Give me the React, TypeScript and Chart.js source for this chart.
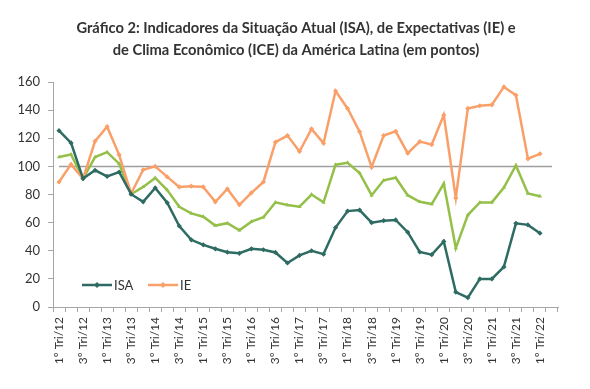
import React, { useEffect, useRef } from "react";
import { Chart, registerables } from "chart.js";

Chart.register(...registerables);

const YEARS = ["12", "13", "14", "15", "16", "17", "18", "19", "20", "21", "22"];
const QUARTERS = ["1º", "2º", "3º", "4º"];
const CATEGORIES: string[] = [];
YEARS.forEach((y) => QUARTERS.forEach((q) => CATEGORIES.push(`${q} Tri/${y}`)));
const LABELS = CATEGORIES.slice(0, 42); // 1º Tri/12 .. 2º Tri/22 (last one empty)

const ISA = [125.4, 116.7, 91.3, 97.2, 92.9, 96, 80.2, 74.8, 84.7, 74.1, 57.6, 47.8, 44.2, 41.4, 39, 38.2, 41.4, 40.7, 38.8, 31.3, 36.7, 40, 37.6, 56.5, 68.2, 68.9, 60, 61.4, 61.9, 53.2, 39.1, 37.2, 46.6, 10.6, 6.6, 20, 20, 28.5, 59.5, 58.4, 52.5];
const IE = [88.9, 101.4, 91.3, 117.9, 128.2, 108.2, 80.7, 97.6, 100, 92.5, 85.4, 85.9, 85.4, 74.8, 84, 72.7, 81.2, 88.9, 117.2, 121.9, 110.6, 126.6, 116.5, 153.6, 141.2, 124.7, 99.5, 121.9, 124.9, 109.4, 117.6, 115.5, 136.5, 77.6, 141.2, 143.1, 143.8, 156.5, 150.6, 105.4, 108.9];
const ICE = [106.6, 108.5, 91.3, 106.6, 110.1, 101.9, 80.2, 85.4, 91.8, 83.1, 71.3, 66.6, 64.2, 57.9, 59.6, 54.6, 60.7, 63.8, 74.4, 72.5, 71.3, 80, 74.4, 101.2, 102.6, 95.3, 79.5, 90.1, 91.9, 79.5, 74.8, 73.2, 87.8, 41.9, 65.4, 74.4, 74.4, 84.9, 100.7, 80.7, 78.8];
const REFERENCE = 100;
const Y_TICKS = [0, 20, 40, 60, 80, 100, 120, 140, 160];
const TITLE = [
  "Gráfico 2: Indicadores da Situação Atual (ISA), de Expectativas (IE) e",
  "de Clima Econômico (ICE) da América Latina (em pontos)",
];
const LEGEND_ITEMS = ["ISA", "IE"];

const C_ISA = "#2E6B62";
const C_IE = "#F9A06A";
const C_ICE = "#94C049";
const AXIS = "#A6A6A6";
const TEXT = "#333333";
const FONT = "Lato, 'Open Sans', sans-serif";

const refLine = {
  id: "refLine",
  beforeDatasetsDraw(chart: any) {
    const { ctx, scales } = chart;
    const y = scales.y.getPixelForValue(REFERENCE);
    const x0 = scales.x.getPixelForValue(0);
    const x1 = scales.x.getPixelForValue(LABELS.length - 1);
    ctx.save();
    ctx.strokeStyle = "#9E9E9E";
    ctx.lineWidth = 1.5;
    ctx.beginPath();
    ctx.moveTo(x0, y);
    ctx.lineTo(x1, y);
    ctx.stroke();
    ctx.restore();
  },
};

const centeredTitle = {
  id: "centeredTitle",
  afterDraw(chart: any) {
    const { ctx, width } = chart;
    ctx.save();
    ctx.fillStyle = TEXT;
    ctx.font = `bold 14.7px ${FONT}`;
    ctx.textAlign = "center";
    ctx.textBaseline = "middle";
    TITLE.forEach((line, i) => ctx.fillText(line, width / 2 + 1, 28 + i * 22));
    ctx.restore();
  },
};

const customLegend = {
  id: "customLegend",
  afterDraw(chart: any) {
    const { ctx } = chart;
    const positions = [82, 148];
    const y = 285;
    ctx.save();
    LEGEND_ITEMS.forEach((name, i) => {
      const ds = chart.data.datasets.find((d: any) => d.label === name);
      const x = positions[i];
      ctx.strokeStyle = ds.borderColor;
      ctx.lineWidth = 2.5;
      ctx.beginPath();
      ctx.moveTo(x, y);
      ctx.lineTo(x + 30, y);
      ctx.stroke();
      ctx.fillStyle = ds.borderColor;
      ctx.beginPath();
      ctx.moveTo(x + 15, y - 3);
      ctx.lineTo(x + 18, y);
      ctx.lineTo(x + 15, y + 3);
      ctx.lineTo(x + 12, y);
      ctx.closePath();
      ctx.fill();
      ctx.fillStyle = TEXT;
      ctx.font = `13px ${FONT}`;
      ctx.textBaseline = "middle";
      ctx.textAlign = "left";
      ctx.fillText(name, x + 32, y + 1);
    });
    ctx.restore();
  },
};

export default function App() {
  const ref = useRef<HTMLCanvasElement | null>(null);
  useEffect(() => {
    document.body.style.margin = "0";
    const chart = new Chart(ref.current!, {
      type: "line",
      data: {
        labels: LABELS,
        datasets: [
          {
            label: "ISA",
            data: ISA,
            borderColor: C_ISA,
            backgroundColor: C_ISA,
            borderWidth: 2.5,
            pointStyle: "rectRot",
            pointRadius: 2.6,
            pointBorderWidth: 0,
            tension: 0,
          },
          {
            label: "IE",
            data: IE,
            borderColor: C_IE,
            backgroundColor: C_IE,
            borderWidth: 2.5,
            pointStyle: "rectRot",
            pointRadius: 2.6,
            pointBorderWidth: 0,
            tension: 0,
          },
          {
            label: "ICE",
            data: ICE,
            borderColor: C_ICE,
            backgroundColor: C_ICE,
            borderWidth: 2.5,
            pointStyle: "triangle",
            pointRadius: 2.4,
            pointBorderWidth: 0,
            tension: 0,
          },
        ],
      },
      options: {
        responsive: false,
        animation: false,
        layout: { padding: { top: 82, left: 0, right: 32, bottom: 0 } },
        plugins: {
          legend: { display: false },
          tooltip: { enabled: false },
          title: { display: false },
        },
        scales: {
          x: {
            type: "category",
            offset: true,
            grid: {
              offset: true,
              drawOnChartArea: false,
              drawTicks: true,
              tickLength: 5,
              color: AXIS,
            },
            border: { display: true, color: AXIS, width: 1 },
            ticks: {
              autoSkip: false,
              minRotation: 90,
              maxRotation: 90,
              padding: 5,
              color: TEXT,
              font: { family: FONT, size: 12 },
              callback: (_v: any, i: number) => (i % 2 === 0 ? LABELS[i] : ""),
            },
            afterFit: (s: any) => {
              s.height = 82;
            },
          },
          y: {
            min: 0,
            max: 160,
            afterBuildTicks: (s: any) => {
              s.ticks = Y_TICKS.map((v) => ({ value: v }));
            },
            grid: {
              drawOnChartArea: false,
              drawTicks: true,
              tickLength: 5,
              color: AXIS,
            },
            border: { display: true, color: AXIS, width: 1 },
            ticks: {
              padding: 8,
              color: TEXT,
              font: { family: FONT, size: 13 },
            },
            afterFit: (s: any) => {
              s.width = 53;
            },
          },
        },
      },
      plugins: [refLine, customLegend, centeredTitle],
    });
    return () => chart.destroy();
  }, []);
  return (
    <div style={{ position: "absolute", left: 0, top: 0, width: 590, height: 389, background: "#fff" }}>
      <canvas ref={ref} width={590} height={389} />
    </div>
  );
}
